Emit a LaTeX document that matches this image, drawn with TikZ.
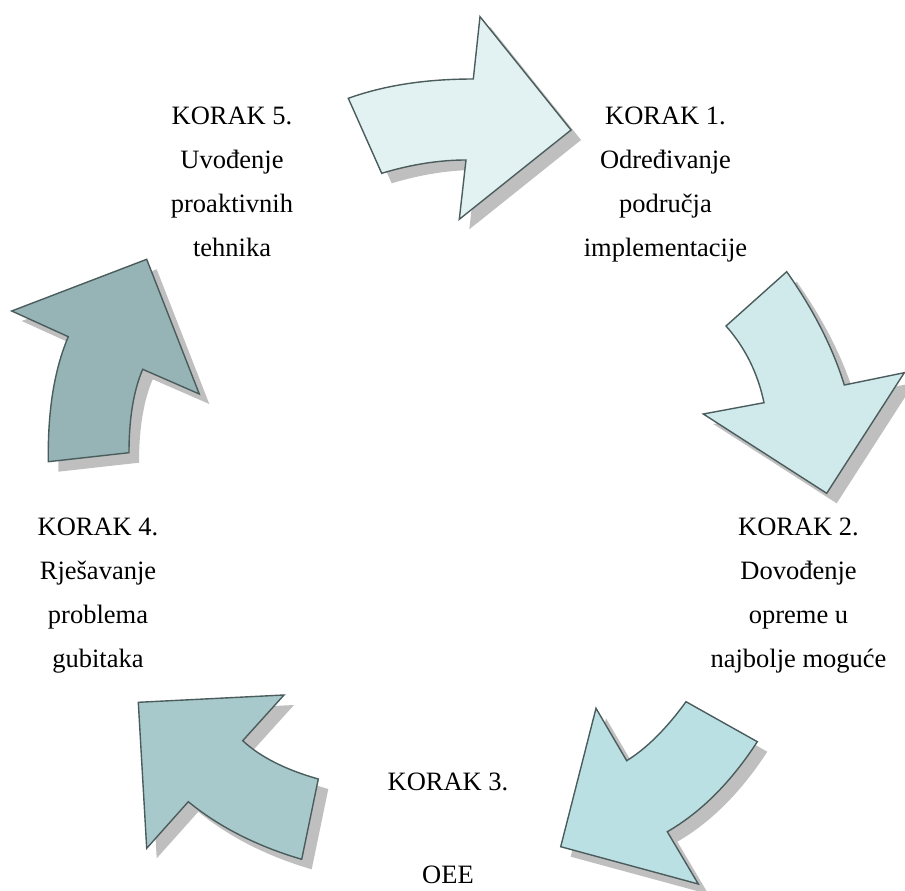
\documentclass[tikz,border=0pt]{standalone}
\usepackage{fontspec}
\setmainfont{Liberation Serif}
\newfontfamily\lserif{Liberation Serif}
\definecolor{edgec}{HTML}{4B5C5C}
\definecolor{shadowc}{HTML}{BFBFBF}
\definecolor{fa}{HTML}{E2F2F3}
\definecolor{fb}{HTML}{D0E9EB}
\definecolor{fc}{HTML}{BBE0E3}
\definecolor{fd}{HTML}{A8C9CB}
\definecolor{fe}{HTML}{96B3B5}
\tikzset{
  shadowpath/.style={fill=shadowc, draw=none, shift={(10,10)}},
  arrowpath/.style={draw=edgec, line width=1.4pt, line join=miter},
  lbl/.style={font=\lserif\fontsize{26.5}{26.5}\selectfont, inner sep=0pt, anchor=base}
}
\newcommand\ArrowOne[1]{\path[#1] (348.3,98.3) .. controls (384.1,85.4) and (425.8,79) .. (473.3,79) -- (480,16.7) -- (571,130) -- (459.3,219.3) -- (466,160) .. controls (439.3,160) and (411.2,164.4) .. (381.7,173.3) -- cycle;}
\newcommand\ArrowTwo[1]{\path[#1] (786.7,271.7) -- (726,326) .. controls (745.1,347.5) and (757.8,373.1) .. (764,402.7) -- (703.3,414) -- (826.7,493.3) -- (904.3,372.7) -- (844.3,385) .. controls (832.8,347.7) and (813.6,309.9) .. (786.7,271.7) -- cycle;}
\newcommand\ArrowThree[1]{\path[#1] (686,701.7) -- (757.3,741.7) .. controls (730.9,782.3) and (700.9,812.3) .. (667.3,831.7) -- (698.3,884) -- (560.7,846.7) -- (596,708.3) -- (626.7,760.7) .. controls (646.6,748.4) and (666.4,728.7) .. (686,701.7) -- cycle;}
\newcommand\ArrowFour[1]{\path[#1] (138.3,702.3) -- (284,695) -- (242.7,740.7) .. controls (260.2,756.9) and (285.4,769.7) .. (318.3,779) -- (301.7,859.3) .. controls (257,846.2) and (219.2,827) .. (188.3,801.7) -- (146.7,848.3) -- cycle;}
\newcommand\ArrowFive[1]{\path[#1] (146.7,259.3) -- (199.3,394) -- (142.7,369.3) .. controls (133.6,390.6) and (129,418.4) .. (129,452.7) -- (48.3,461.7) .. controls (47.6,411) and (54.3,369.4) .. (68.3,336.7) -- (11.7,311) -- cycle;}
\begin{document}
\begin{tikzpicture}[x=1pt,y=-1pt]
\fill[white] (0,0) rectangle (905,891);
\useasboundingbox (0,0) rectangle (905,891);
% shadows
\ArrowOne{shadowpath}
\ArrowTwo{shadowpath}
\ArrowThree{shadowpath}
\ArrowFour{shadowpath}
\ArrowFive{shadowpath}
% arrows
\ArrowOne{arrowpath, fill=fa}
\ArrowTwo{arrowpath, fill=fb}
\ArrowThree{arrowpath, fill=fc}
\ArrowFour{arrowpath, fill=fd}
\ArrowFive{arrowpath, fill=fe}
% step 1
\node[lbl] (s1a) at (665.5,124.5) {KORAK 1.};
\node[lbl] (s1b) at (665.5,168.5) {Određivanje};
\node[lbl] (s1c) at (665.5,212.5) {područja};
\node[lbl] (s1d) at (665.5,256.5) {implementacije};
% step 5
\node[lbl] (s5a) at (232,124.5) {KORAK 5.};
\node[lbl] (s5b) at (232,168.5) {Uvođenje};
\node[lbl] (s5c) at (232,212.5) {proaktivnih};
\node[lbl] (s5d) at (232,256.5) {tehnika};
% step 2
\node[lbl] (s2a) at (798.5,535) {KORAK 2.};
\node[lbl] (s2b) at (798.5,579.5) {Dovođenje};
\node[lbl] (s2c) at (798.5,623.5) {opreme u};
\node[lbl] (s2d) at (798.5,667.5) {najbolje moguće};
% step 4
\node[lbl] (s4a) at (98,535) {KORAK 4.};
\node[lbl] (s4b) at (98,579.5) {Rješavanje};
\node[lbl] (s4c) at (98,623.5) {problema};
\node[lbl] (s4d) at (98,667.5) {gubitaka};
% step 3
\node[lbl] (s3a) at (448,790.5) {KORAK 3.};
\node[lbl] (s3b) at (448,883) {OEE};
\end{tikzpicture}
\end{document}
